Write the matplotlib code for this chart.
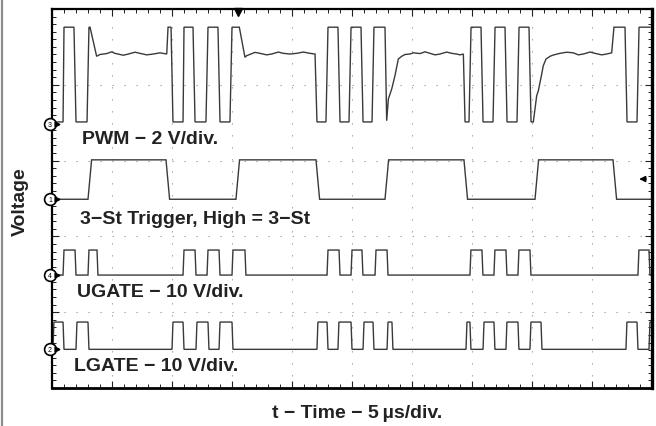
import matplotlib
matplotlib.use('Agg')
import matplotlib.pyplot as plt
from matplotlib.ticker import MultipleLocator

# scope screen: 10 div x 5 µs horizontally, 5 div vertically
t_span = 50.0
div_span = 5.0

# PWM (ch3), levels in divisions
pwm_lo = 3.51
pwm_hi = 4.76
pwm_t = [0.08, 0.92, 1.00, 1.83, 2.00, 2.92, 3.08, 3.17,
         3.72, 4.00, 4.56, 4.97, 5.25, 5.94, 6.36, 6.92, 7.33, 7.89, 8.44, 9.00, 9.56,
         9.67, 9.92, 10.08, 10.92, 11.00, 11.75, 11.92, 12.83, 13.00, 13.83, 14.00,
         14.83, 15.00, 15.61,
         16.08, 16.22, 16.92, 17.33, 17.89, 18.31, 18.86, 19.28, 19.83, 20.39, 20.94,
         21.50, 21.92,
         22.08, 22.83, 23.00, 23.83, 24.00, 24.75, 24.92, 25.75, 25.92, 26.67, 26.83,
         27.75,
         27.89, 28.03, 28.17, 28.31, 28.58, 28.72, 28.86, 29.14, 29.42, 29.83, 30.11,
         30.67, 31.08, 31.36, 31.92, 32.33, 32.89, 33.31, 33.72, 34.00, 34.28,
         34.42, 34.75, 34.92, 35.75, 35.92, 36.75, 36.92, 37.75, 37.92, 38.75, 38.92,
         39.75, 39.92,
         40.11, 40.25, 40.39, 40.53, 40.67, 40.81, 40.94, 41.17, 41.50, 41.78, 42.33,
         42.89, 43.44, 43.86, 44.28, 44.83, 45.25, 45.81, 46.22, 46.64,
         46.83, 47.75, 47.92, 48.75, 48.92, 49.83]
pwm_v = [pwm_lo, pwm_lo, pwm_hi, pwm_hi, pwm_lo, pwm_lo, pwm_hi, pwm_hi,
         4.376, 4.400, 4.412, 4.435, 4.415, 4.390, 4.406, 4.430, 4.415, 4.395, 4.406, 4.422, 4.406,
         pwm_hi, pwm_hi, pwm_lo, pwm_lo, pwm_hi, pwm_hi, pwm_lo, pwm_lo, pwm_hi, pwm_hi, pwm_lo,
         pwm_lo, pwm_hi, pwm_hi,
         4.363, 4.384, 4.428, 4.415, 4.395, 4.406, 4.432, 4.415, 4.406, 4.415, 4.432,
         4.415, 4.406,
         pwm_lo, pwm_lo, pwm_hi, pwm_hi, pwm_lo, pwm_lo, pwm_hi, pwm_hi, pwm_lo, pwm_lo, pwm_hi,
         pwm_hi,
         3.526, 3.813, 3.879, 3.945, 4.120, 4.231, 4.340, 4.376, 4.400, 4.406, 4.422,
         4.412, 4.435, 4.422, 4.395, 4.406, 4.432, 4.415, 4.406, 4.395, 4.406,
         pwm_lo, pwm_lo, pwm_hi, pwm_hi, pwm_lo, pwm_lo, pwm_hi, pwm_hi, pwm_lo, pwm_lo, pwm_hi,
         pwm_hi, pwm_lo,
         3.51, 3.681, 3.856, 3.922, 4.033, 4.142, 4.252, 4.340, 4.376, 4.393, 4.415,
         4.430, 4.422, 4.395, 4.406, 4.432, 4.415, 4.395, 4.406, 4.422,
         pwm_hi, pwm_hi, pwm_lo, pwm_lo, pwm_hi, pwm_hi]

# 3-state trigger (ch1): (rise, fall) in µs
trig_lo = 2.49
trig_hi = 3.01
trig_edges = [(3.00, 9.50), (15.33, 22.00), (27.75, 34.33), (40.25, 46.75)]

# UGATE (ch4)
ug_lo = 1.49
ug_hi = 1.82
ug_edges = [(0.92, 1.92), (3.00, 3.75), (10.92, 11.92), (12.92, 13.92), (15.00, 16.08),
            (22.92, 23.92), (24.92, 25.83), (26.92, 27.92), (34.83, 35.83), (36.83, 37.83),
            (38.83, 39.83), (48.83, 49.75)]

# LGATE (ch2)
lg_lo = 0.51
lg_hi = 0.87
lg_edges = [(0.08, 0.92), (2.00, 3.00), (10.00, 10.92), (12.00, 13.00), (13.92, 15.00),
            (22.08, 22.92), (23.83, 24.92), (25.92, 26.75), (27.92, 28.33), (34.50, 34.83),
            (35.92, 36.83), (37.83, 38.83), (39.83, 40.75), (47.83, 48.75), (49.75, 49.9)]

# channel ground markers: (label, level)
ch_marks = [('3', 3.48), ('1', 2.49), ('4', 1.49), ('2', 0.51)]

labels = ['PWM \u2212 2 V/div.', '3\u2212St Trigger, High = 3\u2212St',
          'UGATE \u2212 10 V/div.', 'LGATE \u2212 10 V/div.']
label_pos = [(2.5, 3.285), (2.33, 2.23), (2.08, 1.27), (1.83, 0.30)]

trig_pos = 15.5
trig_level = 2.757


def steps(edges, lo, hi, t0=0.08, t1=49.9, rise=0.08):
    xs, ys = [], []
    if edges[0][0] > t0:
        xs.append(t0)
        ys.append(lo)
    for r, f in edges:
        xs += [r, r + rise, f, min(f + rise, t1)]
        ys += [lo, hi, hi, lo if f < t1 else hi]
    if xs[-1] < t1:
        xs.append(t1)
        ys.append(lo)
    return xs, ys


plt.rcParams['font.family'] = ['Liberation Sans', 'DejaVu Sans']
fig = plt.figure(figsize=(6.56, 4.27), dpi=100)
W, H = 656, 427
ax = fig.add_axes([52 / W, (H - 389) / H, 600 / W, 379 / H])
ax.set_xlim(0, t_span)
ax.set_ylim(0, div_span)

trace = dict(color='#3a3a3a', lw=1.0, solid_joinstyle='miter')
ax.plot(pwm_t, pwm_v, **trace)
ax.plot(*steps(trig_edges, trig_lo, trig_hi, rise=0.3), **trace)
ax.plot(*steps(ug_edges, ug_lo, ug_hi), **trace)
ax.plot(*steps(lg_edges, lg_lo, lg_hi), **trace)

ax.xaxis.set_major_locator(MultipleLocator(5))
ax.xaxis.set_minor_locator(MultipleLocator(1))
ax.yaxis.set_major_locator(MultipleLocator(1))
ax.yaxis.set_minor_locator(MultipleLocator(0.1))
ax.tick_params(which='both', direction='in', top=True, right=True,
               labelbottom=False, labelleft=False, color='#222222')
ax.tick_params(which='major', length=5, width=0.8)
ax.tick_params(which='minor', length=3, width=0.7)
ax.grid(True, which='major', color='#a0a0a0', lw=0.8, linestyle=(0, (1.2, 9.6)))
for side, w in [('left', 1.6), ('bottom', 2.0), ('top', 1.6), ('right', 2.4)]:
    ax.spines[side].set_linewidth(w)
    ax.spines[side].set_color('black')

for (num, lvl) in ch_marks:
    ax.plot([-0.17], [lvl], marker='o', ms=8.5, mfc='white', mec='black', mew=1.2,
            clip_on=False, zorder=5)
    ax.plot([0.42], [lvl], marker='>', ms=3.5, color='black', clip_on=False, zorder=5)
    ax.text(-0.17, lvl, num, fontsize=5, ha='center', va='center', zorder=6)

for txt, (x, y) in zip(labels, label_pos):
    ax.text(x, y, txt, fontsize=14, fontweight='bold', color='#222222', ha='left', va='center')

ax.plot([trig_pos], [4.96], marker='v', ms=6, color='black', clip_on=False, zorder=5)
ax.annotate('', xy=(48.7, trig_level), xytext=(49.75, trig_level),
            arrowprops=dict(arrowstyle='-|>', color='black', lw=1.0, mutation_scale=9))

fig.text(357 / W, 1 - 414 / H, 't \u2212 Time \u2212 5\u2009µs/div.', fontsize=14,
         fontweight='bold', color='#222222', ha='center', va='center')
fig.text(20 / W, 1 - 202 / H, 'Voltage', fontsize=14, fontweight='bold', color='#222222',
         ha='center', va='center', rotation=90)
fig.add_artist(plt.Line2D([1.5 / W, 1.5 / W], [0, 1], color='#8c8c8c', lw=1.6))

fig.savefig('out.png', dpi=100)
